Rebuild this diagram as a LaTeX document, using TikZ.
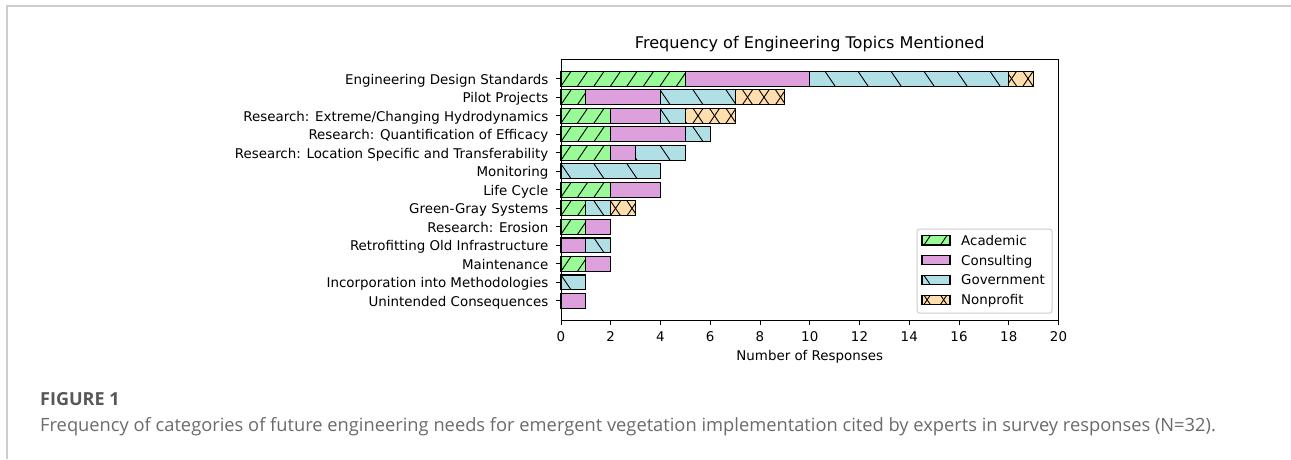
\documentclass[tikz,border=0pt]{standalone}
\usepackage{fontspec}
\setmainfont{DejaVu Sans}
\newfontfamily\capfont{Open Sans}
\definecolor{acad}{HTML}{98FB98}
\definecolor{cons}{HTML}{DDA0DD}
\definecolor{gov}{HTML}{B0E0E6}
\definecolor{nonp}{HTML}{FFDEAD}
\definecolor{framecol}{HTML}{CDCDCD}
\definecolor{capdark}{HTML}{575757}
\definecolor{captext}{HTML}{6B6B6B}
\newcommand\myhatchlines[6]{%
  \begin{scope}
  \clip (#1,#2) rectangle (#3,#4);
  \pgfmathsetmacro\hdx{0.68*(#4-#2)}%
  \pgfmathsetmacro\hs{floor((#1-12)/#5)*#5}%
  \pgfmathtruncatemacro\hn{ceil((#3-\hs+12)/#5)}%
  \foreach \n in {0,...,\hn}{%
    \pgfmathsetmacro\xx{\hs+\n*#5}%
    \ifnum#6=1 \draw[hl] (\xx,#4) -- (\xx+\hdx,#2);%
    \else \draw[hl] (\xx,#2) -- (\xx+\hdx,#4);\fi
  }
  \end{scope}}
\newcommand\myhatch[5]{%
  \ifcase#5\relax
  \or \myhatchlines{#1}{#2}{#3}{#4}{16.5}{1}%
  \or \myhatchlines{#1}{#2}{#3}{#4}{33}{-1}%
  \or \myhatchlines{#1}{#2}{#3}{#4}{16.5}{1}\myhatchlines{#1}{#2}{#3}{#4}{16.5}{-1}%
  \fi}
\begin{document}
\begin{tikzpicture}[x=1pt,y=-1pt,
  hl/.style={black,line width=0.9pt},
  edge/.style={black,line width=1.1pt},
  spine/.style={black,line width=1pt},
  ticklab/.style={inner sep=0pt,font=\fontsize{13.4}{16}\selectfont},
  legbox/.style={draw=framecol,line width=1pt,fill=white,rounded corners=2.5pt},
  framelin/.style={framecol,line width=2pt}]
\useasboundingbox (0,0) rectangle (1291,459);
\fill[white] (0,0) rectangle (1291,459);
\draw[framelin] (7,459) -- (7,5.5) -- (1291,5.5);
% title
\node[inner sep=0pt,anchor=base,font=\fontsize{16.1}{19}\selectfont] (title) at (809.75,48.3) {Frequency of Engineering Topics Mentioned};
% bars
\foreach \r/\a/\b/\c/\t in {
 0/0/5/acad/1, 0/5/10/cons/0, 0/10/18/gov/2, 0/18/19/nonp/3,
 1/0/1/acad/1, 1/1/4/cons/0, 1/4/7/gov/2, 1/7/9/nonp/3,
 2/0/2/acad/1, 2/2/4/cons/0, 2/4/5/gov/2, 2/5/7/nonp/3,
 3/0/2/acad/1, 3/2/5/cons/0, 3/5/6/gov/2,
 4/0/2/acad/1, 4/2/3/cons/0, 4/3/5/gov/2,
 5/0/4/gov/2,
 6/0/2/acad/1, 6/2/4/cons/0,
 7/0/1/acad/1, 7/1/2/gov/2, 7/2/3/nonp/3,
 8/0/1/acad/1, 8/1/2/cons/0,
 9/0/1/cons/0, 9/1/2/gov/2,
 10/0/1/acad/1, 10/1/2/cons/0,
 11/0/1/gov/2,
 12/0/1/cons/0}{
  \pgfmathsetmacro\xa{561+24.875*\a}
  \pgfmathsetmacro\xb{561+24.875*\b}
  \pgfmathsetmacro\yc{78.7+18.52*\r}
  \pgfmathsetmacro\ya{\yc-7.4}
  \pgfmathsetmacro\yb{\yc+7.4}
  \fill[\c] (\xa,\ya) rectangle (\xb,\yb);
  \myhatch{\xa}{\ya}{\xb}{\yb}{\t}
  \draw[edge] (\xa,\ya) rectangle (\xb,\yb);
}
% y tick labels
\foreach \r/\lab in {
 0/{Engineering Design Standards},
 1/{Pilot Projects},
 2/{Research: Extreme/Changing Hydrodynamics},
 3/{Research: Quantification of Efficacy},
 4/{Research: Location Specific and Transferability},
 5/{Monitoring},
 6/{Life Cycle},
 7/{Green-Gray Systems},
 8/{Research: Erosion},
 9/{Retrofitting Old Infrastructure},
 10/{Maintenance},
 11/{Incorporation into Methodologies},
 12/{Unintended Consequences}}{
  \pgfmathsetmacro\yc{78.7+18.52*\r}
  \draw[spine] (556.1,\yc) -- (561,\yc);
  \node[ticklab,anchor=base east] (ylab\r) at (548.5,\yc+5.4) {\lab};
}
% x ticks
\foreach \v in {0,2,...,20}{
  \pgfmathsetmacro\xx{561+24.875*\v}
  \draw[spine] (\xx,320.5) -- (\xx,325.4);
  \node[ticklab,anchor=base] (xlab\v) at (\xx,341.7) {\v};
}
\node[ticklab,anchor=base] (xaxis) at (809.75,360) {Number of Responses};
% axes frame
\draw[spine] (561,59.3) rectangle (1058.5,320.5);
% legend
\draw[legbox] (917,229) rectangle (1052,313);
\foreach \i/\c/\t/\lab in {0/acad/1/Academic, 1/cons/0/Consulting, 2/gov/2/Government, 3/nonp/3/Nonprofit}{
  \pgfmathsetmacro\yc{240.4+19.8*\i}
  \pgfmathsetmacro\ya{\yc-4.6}
  \pgfmathsetmacro\yb{\yc+4.6}
  \fill[\c] (922,\ya) rectangle (950,\yb);
  \myhatch{922}{\ya}{950}{\yb}{\t}
  \draw[edge] (922,\ya) rectangle (950,\yb);
  \node[ticklab,anchor=base west] (leg\i) at (961,\yc+4.9) {\lab};
}
% caption
\node[inner sep=0pt,anchor=base west,text=capdark,font=\capfont\bfseries\fontsize{18}{22}\selectfont] (fig) at (40,405.7) {FIGURE 1};
\node[inner sep=0pt,anchor=base west,text=captext,font=\capfont\fontsize{18.3}{22}\selectfont] (cap) at (40,431.7) {Frequency of categories of future engineering needs for emergent vegetation implementation cited by experts in survey responses (N=32).};
\end{tikzpicture}
\end{document}
